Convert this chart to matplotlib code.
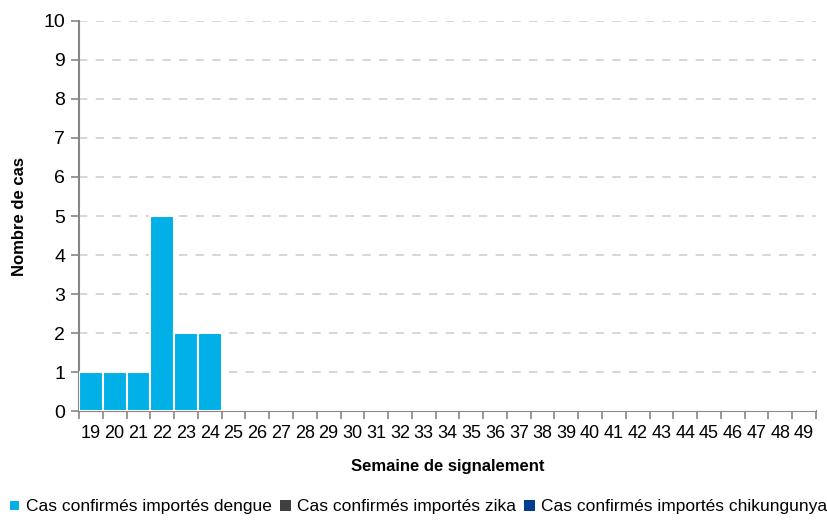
import numpy as np
import matplotlib.pyplot as plt

# weeks 19..49
semaines = list(range(19, 50))
dengue = [1, 1, 1, 5, 2, 2] + [0] * 25
zika = [0] * 31
chikungunya = [0] * 31

plt.rcParams['font.family'] = ['Liberation Sans', 'DejaVu Sans']

fig = plt.figure(figsize=(8.28, 5.22), dpi=100)
ax = fig.add_axes([0.0954, 0.2126, 0.8901, 0.7472])

x = np.arange(len(semaines))
gris = '#868686'

ax.bar(x, dengue, width=1.0, color='#00B0E6', edgecolor='white', linewidth=1.5,
       label='Cas confirmés importés dengue', zorder=3)
ax.bar(x, zika, width=1.0, bottom=dengue, color='#404040', edgecolor='white', linewidth=0,
       label='Cas confirmés importés zika', zorder=3)
ax.bar(x, chikungunya, width=1.0, bottom=np.array(dengue) + np.array(zika), color='#003F8F',
       edgecolor='white', linewidth=0, label='Cas confirmés importés chikungunya', zorder=3)

ax.set_xlim(-0.5, len(semaines) - 0.5)
ax.set_ylim(0, 10)
ax.set_yticks(range(0, 11))

# tick marks at category boundaries, labels at centres
ax.set_xticks(np.arange(len(semaines) + 1) - 0.5)
ax.set_xticklabels([])
ax.set_xticks(x, minor=True)
ax.set_xticklabels([str(s) for s in semaines], minor=True)
ax.tick_params(axis='x', which='major', length=6, color=gris, width=1.2, direction='out')
ax.tick_params(axis='x', which='minor', length=0, pad=10, labelsize=13)
ax.tick_params(axis='y', length=6, color=gris, width=1.2, labelsize=14, pad=4)

for s in ['top', 'right']:
    ax.spines[s].set_visible(False)
for s in ['left', 'bottom']:
    ax.spines[s].set_color(gris)
    ax.spines[s].set_linewidth(1.5)

ax.yaxis.grid(True, linestyle=(0, (5, 5)), color='#D0D0D0', linewidth=1.2, zorder=0)
ax.set_axisbelow(True)

ax.set_ylabel('Nombre de cas', fontsize=12, fontweight='bold', labelpad=12)
ax.set_xlabel('Semaine de signalement', fontsize=12, fontweight='bold', labelpad=12)

leg = fig.legend(loc='lower center', bbox_to_anchor=(0.505, -0.005), ncol=3, frameon=False,
                 fontsize=12.5, handlelength=0.6, handleheight=0.6, handletextpad=0.35,
                 columnspacing=0.5, borderaxespad=0.2)

fig.savefig('out.png', dpi=100)
